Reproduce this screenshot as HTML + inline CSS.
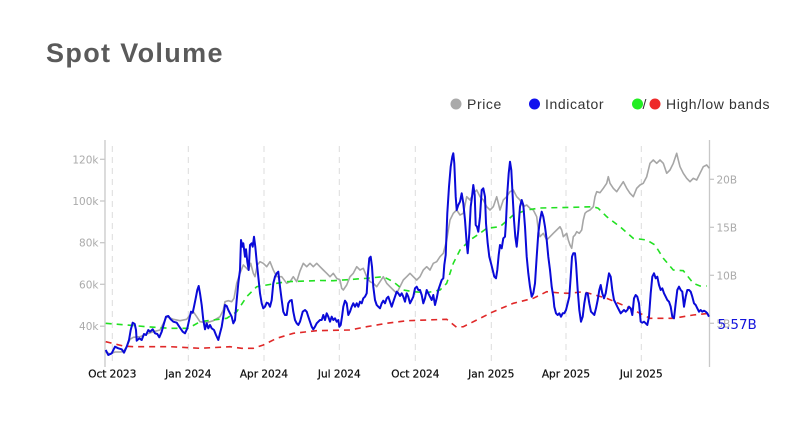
<!DOCTYPE html>
<html><head><meta charset="utf-8"><style>
html,body{margin:0;padding:0;background:#fff;}
body{width:792px;height:435px;overflow:hidden;position:relative;font-family:"Liberation Sans",sans-serif;}
.title{position:absolute;left:46px;top:38px;font-size:27px;font-weight:bold;color:#5a5a5a;letter-spacing:1.35px;}
</style></head><body>
<div class="title">Spot Volume</div>
<svg width="792" height="435" style="position:absolute;left:0;top:0">
<g font-family="Liberation Sans, sans-serif" font-size="14" fill="#333" letter-spacing="0.6">
<circle cx="456" cy="104" r="5.5" fill="#aaaaaa"/><text x="467" y="109">Price</text>
<circle cx="534.5" cy="104" r="5.5" fill="#1010ee"/><text x="545" y="109">Indicator</text>
<circle cx="637.5" cy="104" r="5.5" fill="#22ee22"/><text x="642.5" y="109">/</text>
<circle cx="655" cy="104" r="5.5" fill="#ee2a2a"/><text x="666" y="109">High/low bands</text>
</g>
<g stroke="#dcdcdc" stroke-width="1" stroke-dasharray="6,5">
<line x1="112.3" y1="146" x2="112.3" y2="366"/>
<line x1="188.3" y1="146" x2="188.3" y2="366"/>
<line x1="264" y1="146" x2="264" y2="366"/>
<line x1="339.3" y1="146" x2="339.3" y2="366"/>
<line x1="415.3" y1="146" x2="415.3" y2="366"/>
<line x1="491.3" y1="146" x2="491.3" y2="366"/>
<line x1="566" y1="146" x2="566" y2="366"/>
<line x1="641.3" y1="146" x2="641.3" y2="366"/>
</g>
<g stroke="#c8c8c8" stroke-width="1.3">
<line x1="105" y1="140" x2="105" y2="367"/>
<line x1="709.5" y1="140" x2="709.5" y2="367"/>
<line x1="100" y1="159.3" x2="105" y2="159.3"/>
<line x1="100" y1="201" x2="105" y2="201"/>
<line x1="100" y1="242.7" x2="105" y2="242.7"/>
<line x1="100" y1="284.3" x2="105" y2="284.3"/>
<line x1="100" y1="326.2" x2="105" y2="326.2"/>
<line x1="709.5" y1="179.3" x2="714" y2="179.3"/>
<line x1="709.5" y1="227.3" x2="714" y2="227.3"/>
<line x1="709.5" y1="275.3" x2="714" y2="275.3"/>
<line x1="709.5" y1="323.3" x2="714" y2="323.3"/>
</g>
<g font-family="DejaVu Sans, sans-serif" font-size="10.5" fill="#aaaaaa" text-anchor="end">
<text x="98.5" y="163.3">120k</text>
<text x="98.5" y="205">100k</text>
<text x="98.5" y="246.7">80k</text>
<text x="98.5" y="288.3">60k</text>
<text x="98.5" y="330.2">40k</text>
</g>
<g font-family="DejaVu Sans, sans-serif" font-size="10.5" fill="#aaaaaa">
<text x="716.5" y="183.3">20B</text>
<text x="716.5" y="231.3">15B</text>
<text x="716.5" y="279.3">10B</text>
<text x="716.5" y="327.3">5B</text>
</g>
<g font-family="DejaVu Sans, sans-serif" font-size="10.5" fill="#111" stroke="#111" stroke-width="0.25" text-anchor="middle">
<text x="112.3" y="377.5">Oct 2023</text>
<text x="188.3" y="377.5">Jan 2024</text>
<text x="264" y="377.5">Apr 2024</text>
<text x="339.3" y="377.5">Jul 2024</text>
<text x="415.3" y="377.5">Oct 2024</text>
<text x="491.3" y="377.5">Jan 2025</text>
<text x="566" y="377.5">Apr 2025</text>
<text x="641.3" y="377.5">Jul 2025</text>
</g>
<polyline fill="none" stroke="#a6a6a6" stroke-width="1.6" stroke-linejoin="round" points="105.7,352 110,354 115,352 120,352 123.3,351.7 126.7,346.7 130,339.3 133.3,337.3 140,336.7 146.7,334 153.3,331.7 160,330 166.7,316.7 173.3,319.3 180,320.7 186.7,319.3 190,315 193.3,311.7 196.7,316.7 200,321.7 206.7,322.7 213.3,320.7 220,316.7 223.3,310 225,301.7 228.3,300.7 231.7,301.7 234,298.3 236.7,283.3 240,273.3 243.3,265 245,266.7 248.3,270 250.7,263.3 253.3,273.3 255,276.7 257.3,265 260,261.7 263.3,263.3 266.7,266.7 270,261.7 273.3,270 276.7,276.7 281.7,276.7 286.7,283.3 290,281.7 293.3,276.7 296.7,281.7 300,271 303.3,263.3 306.7,266.7 310,263.3 313.3,266.7 316.7,263.3 320,266.7 323.3,270 326.7,273.3 330,276.7 333.3,273.3 336.7,278.3 340,280 341.7,288.3 343.3,290 346.7,285 350,276.7 353.3,273.3 356.7,266.7 360,270 363.3,268.3 366.7,276.7 370,281.7 373.3,283.3 376.7,286.7 380,281.7 383.3,276.7 386.7,283.3 390,286.7 393.3,290 396.7,293.3 400,286.7 403.3,280 406.7,276.7 410,273.3 413.3,276.7 416.7,280 420,276.7 423.3,270 426.7,266.7 430,270 433.3,263.3 436.7,261.7 440,256.7 443.3,253.3 446.7,240 450,220 453.3,213.3 456.7,210 460,215 463.3,213.3 466.7,196.7 470,200 473.3,193.3 476.7,190 480,196.7 483.3,200 486.7,206.7 490,210 493.3,206.7 496.7,196.7 500,210 503.3,200 506.7,196.7 510,191.7 513.3,190 516.7,196.7 520,200 523.3,206.7 526.7,205 530,208.3 533.3,210 536.7,216.7 538.3,230 540,236.7 543.3,233.3 546.7,240 550,236.7 553.3,233.3 556.7,230 560,226.7 561.7,230 563.3,236.7 566.7,233.3 568.3,240 570,245 571.7,248.3 573.3,236.7 575,235 576.7,231.7 579.3,233.3 581.7,230 583.3,220 585,213.3 586.7,211.7 590,210 593.3,206.7 595,196.7 596.7,191.7 600,192.7 603.3,188.3 606.7,183.3 608.3,176.7 610,183.3 613.3,188.3 616.7,191.7 620,186.7 623.3,181.7 626.7,188.3 630,193.3 633.3,196.7 636.7,188.3 640,185 643.3,183.3 646.7,176.7 650,163.3 653.3,160 656.7,163.3 660,160 663.3,163.3 666.7,173.3 670,170 673.3,163.3 676.7,153.3 678.3,160 680,166.7 683.3,173.3 686.7,178.3 690,181.7 693.3,178.3 696.7,180 700,173.3 703.3,166.7 706.7,165 709.3,168.3"/>
<polyline fill="none" stroke="#22e022" stroke-width="1.6" stroke-dasharray="6,5" points="105.7,323.3 126.7,325 146.7,326.7 170,328.3 188.3,328.3 200,321.7 213.3,320 226.7,318.3 236.7,311.7 246.7,296.7 256.7,286.7 266.7,285 286.7,281.7 320,280.5 333.3,280.7 366.7,278.3 383.3,276.7 393.3,281.7 403.3,290 413.3,291.7 426.7,292.7 440,290 446.7,283.3 453.3,263.3 460,250 470,240 480,233.3 486.7,228.3 500,226.7 513.3,215 526.7,210 540,208 573.3,207.3 593.3,206.7 598.3,208.3 606.7,216.7 620,226.7 633.3,238.3 646.7,240 655,245 663.3,258.3 673.3,270 683.3,270.7 693.3,283.3 700,286 706.7,286"/>
<polyline fill="none" stroke="#e02828" stroke-width="1.6" stroke-dasharray="6,5" points="105.7,341.7 123.3,346 133.3,346.7 170,346.7 200,348.3 230,346.7 241.7,348.3 253.3,348.3 263.3,345 276.7,338.3 293.3,333.3 316.7,330.7 350,330 366.7,326.7 386.7,323.3 406.7,320.7 446.7,319.3 451.7,323.3 456.7,327.3 463.3,326.7 476.7,320 493.3,311.7 513.3,303.3 533.3,298.3 546.7,291.7 560,293 570,293.3 583.3,291.7 606.7,298.3 626.7,306.7 650,318.3 673.3,318.3 693.3,315 709.3,313.3"/>
<polyline fill="none" stroke="#0a0ad8" stroke-width="2" stroke-linejoin="round" points="105.7,350 108.3,355 111.7,353.3 115,346.7 118.3,348.3 121.7,349.3 124,352.7 126.7,346.7 129,340 130.7,330 132.7,322.7 134.7,324 136,330 136.7,340.7 139.3,338.3 141.7,340 144,334 146,335 148.3,330 150,331.7 152.7,329.3 155,333.3 157.3,334 159.3,337.3 161.7,331.7 164,323.3 166,316.7 168.3,316 170.7,319.3 173.3,321.7 176.7,322.7 179.3,326.7 182.7,331.7 185,333.3 187.3,328.3 189.3,319.3 191,311.7 192.7,312.7 194,306.7 195.7,298.3 197.3,290 198.7,286 200,293.3 201.7,305 203.3,320 205,329.3 206.7,323.3 208.3,328.3 210,325 211.7,328.3 214,330 216,335 218.3,340 220,333.3 221.7,326.7 223.3,316.7 225,305 226.7,306 228.3,310 230,313.3 231.7,316.7 233.3,323.3 235,320 236.7,300 238.3,283.3 240,270 241,240 242.3,246.7 243.3,243.3 245,256.7 246,249.3 247.3,261.7 248.7,270 250,245 251.7,243.3 252.7,246.7 254,236.7 255.3,246.7 256.7,261.7 258.3,276.7 260,293.3 261.7,303.3 263.3,308.3 265,306.7 266.7,302.7 268.3,303.3 270,306.7 271.7,300 273.3,283.3 275,276.7 276.7,273.3 278.3,271.7 280,286.7 281.7,300 283.3,311.7 285,315 286.7,315 288.3,303.3 290,300.7 291.7,300 293.3,311.7 295,320 296.7,323.3 298.3,325 300,321.7 302.7,311.7 305,310 306.7,311.7 308.3,316.7 310,321.7 311.7,326.7 313.3,329.3 315,326.7 316.7,323.3 318.3,321.7 320,320 321.7,320 323.3,315 325,320 326.7,313.3 328.3,316.7 330,321.7 331.7,316.7 333.3,320 335,318.3 336.7,321.7 338.3,320 339.3,326.7 340.7,325 342,316.7 343.3,306.7 345,300.7 346.7,303.3 348.3,315 350,311.7 351.7,306.7 353.3,303.3 355,306.7 356.7,303.3 358.3,306.7 360,301.7 361.7,303.3 363.3,298.3 365,296.7 366.7,293.3 367.7,276.7 369.3,258.3 370.7,256.7 372,266.7 373.3,286.7 375,300 376.7,305 378.3,306.7 380,308.3 381.7,303.3 383.3,300.7 385,303.3 386.7,298.3 388.3,296.7 390,301.7 391.7,306.7 393.3,301.7 395,296.7 396.7,291.7 398.3,293.3 400,296 401.7,293.3 403.3,296.7 405,301.7 406.7,293.3 408.3,296.7 410,303.3 411.7,300 413.3,296.7 415,288.3 416.7,286.7 418.3,290 420,290 421.7,295 423.3,303.3 425,298.3 426.7,290 428.3,293.3 430,296.7 431.7,300 433.3,295 435,305 436.7,298.3 438.3,290 440,285 441.7,280 443.3,278.3 444.3,265 445.7,255 447.3,213.3 449,186.7 450.7,166.7 452.3,156.7 453.3,153.3 454.3,163.3 455.7,196.7 456.7,210 458.3,205 460,201.7 461.7,193.3 463.3,203.3 465,220 466.7,243.3 467.7,253.3 469.3,233.3 470.7,206.7 472,196.7 473.3,185 474.7,195 475.7,225 477,226.7 478.3,231.7 480,216.7 481.7,190 483.3,188.3 485,196.7 486,223.3 487.7,243.3 489.3,256.7 491,263.3 492.7,270 494.3,276.7 496,278.3 497.3,270 498.7,255 500,245 501.7,248.3 503.3,238.3 505,236.7 506,221.7 507.3,193.3 508.7,173.3 510,161.7 511.3,170 512.7,196.7 514,220 515.3,236.7 516.7,246.7 518.3,230 520,206.7 521.7,200 523.3,205 525,226.7 526.7,256.7 528.3,273.3 530,286.7 531.7,296.7 533.3,293.3 535,283.3 536.7,256.7 538.3,233.3 540,220 541.7,211.7 543.3,216.7 545,226.7 546.7,240 548.3,256.7 550,270 551.7,286.7 553.3,296.7 554.3,306.7 556,313.3 557.7,315 559.3,313.3 561,316.7 562.7,313.3 564.3,313.3 566,310 567.7,303.3 569.3,296.7 570.7,276.7 572,256.7 573.3,253.3 575,253.3 576,263.3 577.7,290 579.3,310 581,321.7 582.7,316.7 584.3,303.3 586,293.3 587.7,293.3 589.3,303.3 591,311.7 592.7,313.3 594.3,315 596,308.3 597.7,300 599.3,290 600.7,285 602.3,293.3 604,298.3 605.7,293.3 607.3,283.3 609,273.3 610.7,276.7 612.3,290 614,300 615.7,303.3 617.3,306.7 619,310 620.7,313.3 622.3,311.7 624,310 625.7,311.7 627.3,310 629,306.7 630.7,308.3 632.3,315 634,298.3 635.7,295 637.3,296.7 639,303.3 640.7,321.7 642.3,322.7 644,321.7 645.7,323.3 647.3,325 649,316.7 650.7,293.3 652.3,276.7 654,273.3 655.7,278.3 657.3,276.7 659,285 660.7,290 662.3,288.3 664,293.3 665.7,296.7 667.3,300 669,301.7 670.7,306.7 672.3,316.7 674,318.3 675.7,303.3 677.3,290 679,286.7 680.7,290 682.3,291.7 684,306.7 685.7,296.7 687.3,290 689,290 690.7,291.7 692.3,296.7 694,303.3 695.7,305 697.3,308.3 699,311.7 700.7,310 702.3,311.7 704,310.7 705.7,311.7 707.3,313.3 709,316.7"/>
<text x="717.5" y="329" font-family="DejaVu Sans, sans-serif" font-size="13.5" fill="#1414dc">5.57B</text>
</svg>
</body></html>
